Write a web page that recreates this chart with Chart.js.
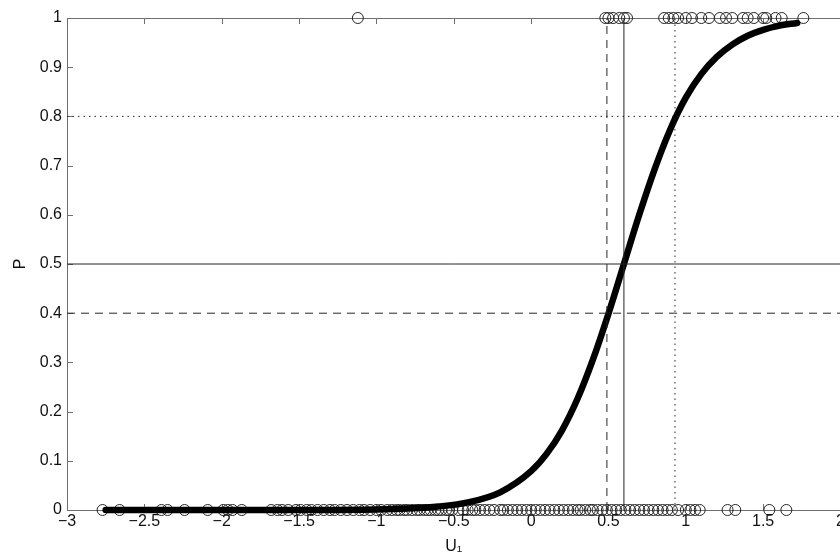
<!DOCTYPE html>
<html>
<head>
<meta charset="utf-8">
<script src="https://cdn.jsdelivr.net/npm/chart.js@4.4.1/dist/chart.umd.min.js"></script>
<style>
  html, body { margin: 0; background: #fff; overflow: hidden; width: 840px; height: 556px; }
  #chart { display: block; }
</style>
</head>
<body>
<!-- a bit wider than the window: the original figure is cropped at U = 2 -->
<canvas id="chart" width="847" height="556"></canvas>
<script>
// fitted curve
const curveU = [-2.75, -2.0, -1.5, -1.0, -0.8, -0.6, -0.4, -0.2, 0.0, 0.1, 0.2, 0.3, 0.4, 0.5, 0.6, 0.7, 0.8, 0.9, 1.0, 1.1, 1.2, 1.3, 1.4, 1.5, 1.6, 1.72];
const curveP = [0.000, 0.000, 0.000, 0.001, 0.003, 0.007, 0.016, 0.036, 0.079, 0.114, 0.162, 0.226, 0.306, 0.399, 0.500, 0.601, 0.694, 0.774, 0.838, 0.886, 0.921, 0.946, 0.964, 0.976, 0.984, 0.990];

// observations at P = 0 and P = 1
const obsU0 = [-2.77, -2.66, -2.39, -2.35, -2.24, -2.09, -1.99, -1.96, -1.93, -1.87,
  -1.68, -1.64, -1.61, -1.57, -1.52, -1.49, -1.45, -1.42, -1.38, -1.34, -1.30, -1.27, -1.23, -1.19,
  -1.15, -1.11, -1.08, -1.04, -1.00, -0.97, -0.93, -0.90, -0.87, -0.85, -0.82, -0.80, -0.77, -0.74,
  -0.72, -0.69, -0.67, -0.65, -0.62, -0.60, -0.58, -0.55, -0.53, -0.51,
  -0.47, -0.44, -0.41, -0.38, -0.36, -0.33, -0.30, -0.27, -0.24, -0.20, -0.18, -0.15, -0.12, -0.09,
  -0.06, -0.03, 0.00, 0.03, 0.06, 0.09, 0.12, 0.15, 0.18, 0.21, 0.24, 0.27, 0.30, 0.32, 0.35, 0.38,
  0.40, 0.43, 0.46, 0.49, 0.52, 0.55, 0.58, 0.61, 0.64, 0.67, 0.70, 0.73, 0.76, 0.79, 0.82, 0.85,
  0.88, 0.91, 0.95, 1.00, 1.03, 1.06, 1.09, 1.27, 1.32, 1.54, 1.65];
const obsU1 = [-1.12, 0.48, 0.50, 0.53, 0.57, 0.60, 0.62, 0.86, 0.89, 0.92, 0.95, 1.00, 1.04, 1.10,
  1.15, 1.22, 1.26, 1.30, 1.37, 1.40, 1.44, 1.50, 1.52, 1.58, 1.62, 1.76];

// reference lines: P levels and the matching U values
const refP = [0.4, 0.5, 0.8];
const refU = [0.49, 0.60, 0.93];
const refDash = [[8, 6], [], [1.5, 4]];

const xTicks = [-3, -2.5, -2, -1.5, -1, -0.5, 0, 0.5, 1, 1.5, 2];
const xTickLabels = ['\u22123', '\u22122.5', '\u22122', '\u22121.5', '\u22121', '\u22120.5', '0', '0.5', '1', '1.5', '2'];
const yTicks = [0, 0.1, 0.2, 0.3, 0.4, 0.5, 0.6, 0.7, 0.8, 0.9, 1];
const yTickLabels = ['0', '0.1', '0.2', '0.3', '0.4', '0.5', '0.6', '0.7', '0.8', '0.9', '1'];

const axisColor = '#6e6e6e';
const lineColor = '#262626';
const font = { family: '"Liberation Sans", Arial, sans-serif', size: 16 };

function pts(xs, ys) {
  return xs.map((v, i) => ({ x: v, y: ys[i] }));
}

const datasets = [];
refP.forEach((p, i) => {
  datasets.push({
    data: [{ x: -3, y: p }, { x: 2, y: p }],
    showLine: true, borderColor: lineColor, borderWidth: 1, borderDash: refDash[i],
    pointRadius: 0, clip: false
  });
  datasets.push({
    data: [{ x: refU[i], y: 0 }, { x: refU[i], y: 1 }],
    showLine: true, borderColor: lineColor, borderWidth: 1, borderDash: refDash[i],
    pointRadius: 0, clip: false
  });
});
datasets.push({
  data: pts(curveU, curveP),
  showLine: true, borderColor: '#000', borderWidth: 6.5, cubicInterpolationMode: 'monotone',
  borderCapStyle: 'round', pointRadius: 0, clip: false
});
datasets.push({
  data: obsU0.map(v => ({ x: v, y: 0 })).concat(obsU1.map(v => ({ x: v, y: 1 }))),
  showLine: false, pointRadius: 5.5, pointBorderWidth: 1, borderColor: lineColor,
  backgroundColor: 'rgba(0,0,0,0)', clip: false
});

// MATLAB style inward ticks and the top edge of the box
const boxTicks = {
  id: 'boxTicks',
  beforeDatasetsDraw(chart) {
    const { ctx, chartArea: a, scales: { x, y } } = chart;
    ctx.save();
    ctx.strokeStyle = axisColor;
    ctx.lineWidth = 1;
    ctx.beginPath();
    ctx.moveTo(a.left, a.top + 0.5);
    ctx.lineTo(a.right, a.top + 0.5);
    xTicks.forEach(v => {
      const px = Math.round(x.getPixelForValue(v)) + 0.5;
      ctx.moveTo(px, a.bottom); ctx.lineTo(px, a.bottom - 6);
      ctx.moveTo(px, a.top); ctx.lineTo(px, a.top + 6);
    });
    yTicks.forEach(v => {
      const py = Math.round(y.getPixelForValue(v)) + 0.5;
      ctx.moveTo(a.left, py); ctx.lineTo(a.left + 6, py);
    });
    ctx.stroke();
    ctx.restore();
  }
};

new Chart(document.getElementById('chart'), {
  type: 'scatter',
  data: { datasets: datasets },
  plugins: [boxTicks],
  options: {
    responsive: false,
    animation: false,
    layout: { padding: { top: 18, right: 0, bottom: 0, left: 0 } },
    plugins: { legend: { display: false }, tooltip: { enabled: false } },
    scales: {
      x: {
        type: 'linear', min: -3, max: 2,
        afterBuildTicks: s => { s.ticks = xTicks.map(v => ({ value: v })); },
        afterFit: s => { s.height = 46; s.paddingLeft = 0; s.paddingRight = 0; },
        grid: { display: false, drawTicks: false },
        border: { display: true, color: axisColor, width: 1 },
        ticks: { color: '#111', font: font, padding: 2, maxRotation: 0, autoSkip: false,
          callback: (v, i) => xTickLabels[i] },
        title: { display: true, text: 'U\u2081', color: '#111', font: font, padding: { top: 2, bottom: 0 } }
      },
      y: {
        type: 'linear', min: 0, max: 1,
        afterBuildTicks: s => { s.ticks = yTicks.map(v => ({ value: v })); },
        afterFit: s => { s.width = 67; s.paddingTop = 0; s.paddingBottom = 0; },
        grid: { display: false, drawTicks: false },
        border: { display: true, color: axisColor, width: 1 },
        ticks: { color: '#111', font: font, padding: 5, autoSkip: false,
          callback: (v, i) => yTickLabels[i] },
        title: { display: true, text: 'P', color: '#111', font: font, padding: { top: 11, bottom: 0 } }
      }
    }
  }
});
</script>
</body>
</html>
